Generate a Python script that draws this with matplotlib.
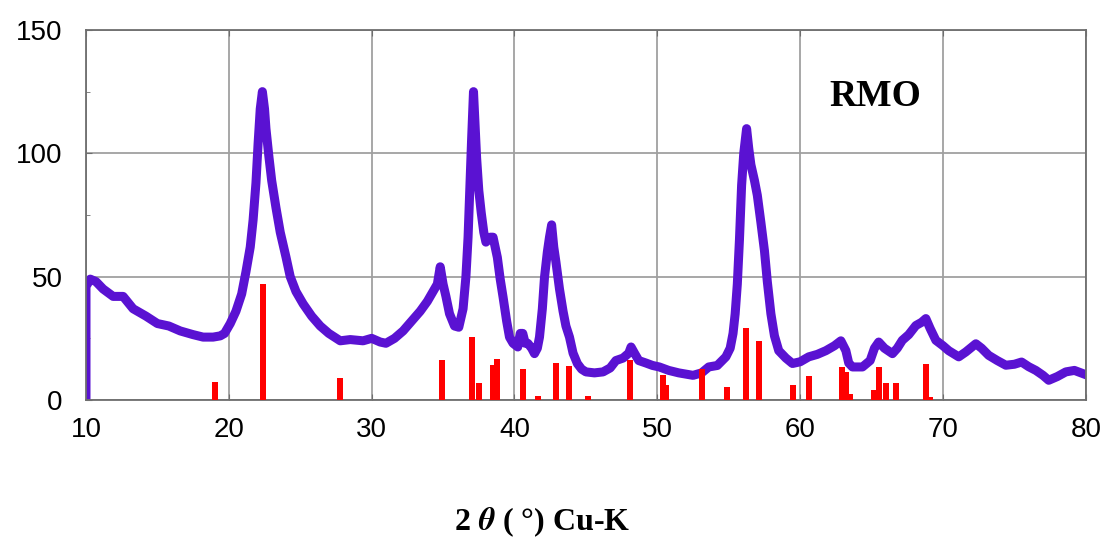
import matplotlib
matplotlib.use('Agg')

import matplotlib.pyplot as plt
import numpy as np

# XRD-Kurve
two_theta = [10.0, 10.0, 10.3, 10.7, 11.2, 11.9, 12.6, 13.3, 14.2, 15.0, 15.8, 16.6, 17.5, 18.2, 18.9,
             19.4, 19.7, 20.1, 20.5, 20.9, 21.2, 21.5, 21.7, 21.9, 22.05, 22.2, 22.35, 22.5, 22.6, 22.8,
             23.0, 23.3, 23.6, 24.0, 24.3, 24.7, 25.2, 25.8, 26.4, 27.0, 27.8, 28.5, 29.4, 30.0, 30.6,
             31.0, 31.6, 32.2, 32.8, 33.4, 33.9, 34.3, 34.6, 34.8, 35.0, 35.2, 35.45, 35.8, 36.1, 36.4,
             36.6, 36.75, 36.9, 37.0, 37.13, 37.25, 37.35, 37.5, 37.67, 37.85, 38.0, 38.3, 38.5, 38.65,
             38.8, 39.0, 39.2, 39.45, 39.65, 39.9, 40.23, 40.4, 40.58, 40.75, 40.93, 41.2, 41.4, 41.6,
             41.75, 41.95, 42.1, 42.3, 42.45, 42.6, 42.75, 42.9, 43.15, 43.4, 43.6, 43.85, 44.1, 44.4,
             44.7, 45.0, 45.6, 46.2, 46.7, 47.1, 47.6, 48.0, 48.16, 48.4, 48.7, 49.2, 49.67, 50.14,
             50.8, 51.5, 52.5, 53.1, 53.6, 54.2, 54.8, 55.1, 55.3, 55.45, 55.6, 55.75, 55.9, 56.05,
             56.25, 56.4, 56.55, 56.8, 57.0, 57.25, 57.5, 57.7, 57.95, 58.2, 58.5, 59.0, 59.46, 60.0,
             60.6, 61.2, 61.8, 62.4, 62.85, 63.2, 63.4, 63.66, 64.36, 64.9, 65.2, 65.5, 65.9, 66.46,
             66.8, 67.15, 67.6, 68.1, 68.5, 68.8, 69.1, 69.5, 70.0, 70.4, 71.1, 71.6, 72.3, 72.7,
             73.2, 73.8, 74.4, 75.0, 75.5, 76.0, 76.5, 77.0, 77.4, 78.0, 78.6, 79.2, 79.8]
intensity = [0, 46, 49, 48, 45, 42, 42, 37, 34, 31, 30, 28, 26.5, 25.5, 25.5,
             26, 27, 31, 36, 43, 52, 62, 73, 88, 104, 118, 125, 118, 110, 99,
             89, 78, 68, 58, 50, 44, 39, 34, 30, 27, 24, 24.5, 24, 25, 23.5,
             23, 25, 28, 32, 36, 40, 44, 47, 54, 47, 42, 35, 30, 29.5, 37,
             50, 66, 90, 106, 125, 110, 98, 85, 76, 68, 64, 66, 66, 62,
             57.8, 49, 41.7, 32, 25.5, 23, 21.5, 27, 27, 23, 23, 21, 18.8, 21,
             25.5, 37, 49.7, 60, 66, 71, 62, 56, 45, 36, 30, 25.5, 19, 14.8,
             12.5, 11.4, 11, 11.4, 13, 16, 17, 19, 21.5, 19, 16, 15, 14, 13.4,
             12, 11, 10, 11, 13.4, 14, 17.5, 21, 27, 35, 47, 65, 87, 100,
             110, 102, 95.4, 89, 83, 72, 60.5, 48, 35, 26, 20, 17, 14.8, 15.5,
             17.5, 18.5, 20, 22, 24, 20, 15, 13.4, 13.4, 16, 21, 23.5, 21, 18.8,
             21, 24.2, 26.5, 30.2, 31.5, 33, 29, 24.2, 22, 20, 17.5, 19.5, 22.8, 21,
             18.1, 16, 14.1, 14.5, 15.4, 13.5, 12, 10, 8, 9.5, 11.4, 12, 10.7]

# Referenzlinien
ref_pos = [19.03, 22.4, 27.8, 34.9, 37.06, 37.5, 38.5, 38.8, 40.6, 41.65, 42.9, 43.8, 45.15,
           48.1, 50.4, 50.6, 53.1, 54.9, 56.2, 57.1, 59.5, 60.6, 62.9, 63.2, 63.5, 65.2,
           65.5, 66.0, 66.7, 68.8, 69.1]
ref_int = [7.3, 47, 9, 16.2, 25.7, 6.7, 14, 16.8, 12.5, 1.5, 15, 13.7, 1.5,
           16.4, 10, 6, 12.5, 5.3, 29.3, 24, 6, 9.8, 13.4, 11.4, 2.6, 4,
           13.4, 7, 7, 14.5, 1.2]

fig = plt.figure(figsize=(11.08, 5.41), dpi=100)
ax = fig.add_axes([0.0776, 0.2606, 0.9024, 0.684])

ax.plot(two_theta, intensity, color='#5a12d2', lw=6.5, solid_joinstyle='round', zorder=2)
ax.bar(ref_pos, ref_int, width=0.42, color='#ff0000', zorder=3)

ax.set_xlim(10, 80)
ax.set_ylim(0, 150)
ax.set_xticks(np.arange(10, 81, 10))
ax.set_yticks([0, 50, 100, 150])
ax.set_yticks([25, 75, 125], minor=True)
ax.grid(True, which='major', color='#a0a0a0', lw=1.3, zorder=0)
ax.set_axisbelow(True)

for s in ax.spines.values():
    s.set_color('#6e6e6e')
    s.set_linewidth(1.3)

ax.tick_params(axis='both', which='major', direction='in', length=4, color='#6e6e6e',
               labelsize=20, top=True)
ax.tick_params(axis='x', pad=12)
ax.tick_params(axis='y', pad=17)
ax.tick_params(axis='y', which='minor', direction='in', length=3, color='#6e6e6e')
for lab in ax.get_xticklabels() + ax.get_yticklabels():
    lab.set_fontfamily('Liberation Sans')

ax.text(0.789, 0.819, 'RMO', transform=ax.transAxes, ha='center', va='center',
        fontsize=27, fontweight='bold', family='Liberation Serif')

plt.rcParams['mathtext.fontset'] = 'stix'
fig.text(0.489, 0.035, r'2 $\boldsymbol{\theta}$ ( °) Cu-K', ha='center', va='center',
         fontsize=23, fontweight='bold', family='Liberation Serif')

fig.savefig('out.png', dpi=100)
